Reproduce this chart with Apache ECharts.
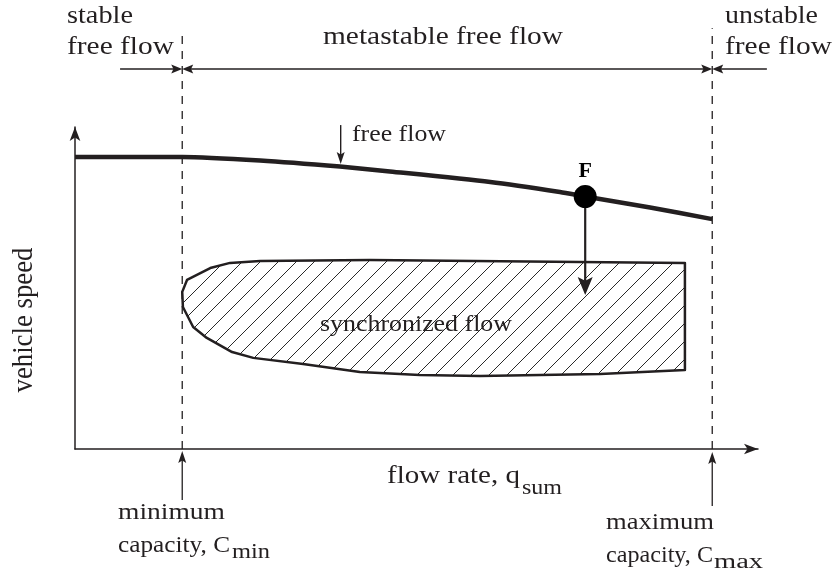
<!DOCTYPE html>
<html><head><meta charset="utf-8">
<script src="https://cdn.jsdelivr.net/npm/echarts@6/dist/echarts.min.js"></script>
<style>html,body{margin:0;padding:0;background:#fff}#c{width:833px;height:573px}</style>
</head><body><div id="c"></div>
<script>
// ---- data (schematic units: flow rate 0..100, vehicle speed 0..100) ----
const flowRate      = [0, 15.7, 27.1, 38.8, 46.1, 60.8, 71.0, 74.7, 84.2, 93.3];
const freeFlowSpeed = [90.7, 90.7, 89.6, 87.7, 86.2, 82.9, 79.8, 78.4, 75.0, 71.4];
const capacityFlow  = [15.7, 93.3];          // C_min, C_max
const capacityLineTop = [128.6, 130.7];      // top of dashed capacity lines
const pointF = [74.7, 78.4];
const pointFArrowTip = 47.8;
const syncFlowRate = [15.7, 16.4, 19.8, 22.7, 27.1, 43.2, 89.3, 89.3, 76.9, 59.3, 50.5, 41.7, 33.4, 26.1, 23.0, 19.3, 17.3, 15.8];
const syncSpeed    = [48.8, 52.5, 56.2, 57.8, 58.4, 58.7, 57.8, 24.5, 23.3, 22.7, 23.0, 23.9, 26.4, 28.3, 30.1, 34.5, 37.9, 44.1];
const freeFlowPointer = [38.9, 100.6, 88.5]; // flow, speed from, speed to
const regimeArrowSpeed = 118.0;
const regimeArrowStart = [6.6, 101.3];
const capacityArrowFrom = [-15.8, -17.7];
const capacityArrowTo   = [-0.6, -0.9];

const INK = '#231f20';
const FONT = '"Liberation Serif", "Times New Roman", serif';

// hatch pattern
const T = 18;
const hatch = document.createElement('canvas');
hatch.width = T; hatch.height = T;
(function () {
  const g = hatch.getContext('2d');
  g.strokeStyle = '#2a2a2a'; g.lineWidth = 1;
  g.beginPath();
  g.moveTo(0, T); g.lineTo(T, 0);
  g.moveTo(-T / 2, T / 2); g.lineTo(T / 2, -T / 2);
  g.moveTo(T / 2, T * 1.5); g.lineTo(T * 1.5, T / 2);
  g.stroke();
})();

function arrowSeries(name, segments, o) {
  return {
    type: 'custom', name: name, coordinateSystem: 'cartesian2d', clip: false, silent: true, z: o.z || 5,
    data: segments,
    renderItem: function (params, api) {
      const a = api.coord([api.value(0), api.value(1)]);
      const b = api.coord([api.value(2), api.value(3)]);
      const dx = b[0] - a[0], dy = b[1] - a[1];
      const L = Math.hypot(dx, dy) || 1;
      const ux = dx / L, uy = dy / L, nx = -uy, ny = ux;
      const hl = o.headLen, hw = o.headWidth / 2;
      function head(tip, ex, ey) {
        const bx = tip[0] - ex * hl, by = tip[1] - ey * hl;
        return { type: 'polygon', shape: { points: [[tip[0], tip[1]], [bx + nx * hw, by + ny * hw], [tip[0] - ex * hl * 0.8, tip[1] - ey * hl * 0.8], [bx - nx * hw, by - ny * hw]] }, style: { fill: o.color || INK } };
      }
      const s = o.both ? [a[0] + ux * hl * 0.7, a[1] + uy * hl * 0.7] : a;
      const e = [b[0] - ux * hl * 0.7, b[1] - uy * hl * 0.7];
      const ch = [{ type: 'line', shape: { x1: s[0], y1: s[1], x2: e[0], y2: e[1] }, style: { stroke: o.color || INK, lineWidth: o.lineWidth } }];
      ch.push(head(b, ux, uy));
      if (o.both) ch.push(head(a, -ux, -uy));
      return { type: 'group', children: ch };
    }
  };
}

const mctx = document.createElement('canvas').getContext('2d');
function txt(text, left, baseline, size, width, extra) {
  const font = (extra && extra.bold ? 'bold ' : '') + size + 'px ' + FONT;
  mctx.font = font;
  const w = mctx.measureText(text).width;
  return {
    type: 'text', x: left, y: baseline - 0.305 * size,
    scaleX: width ? width / w : 1,
    silent: true, z: 20,
    style: { text: text, font: font, fill: INK, align: 'left', verticalAlign: 'middle', textAlign: 'left', textVerticalAlign: 'middle' }
  };
}

const vText = (function () {
  const size = 26, font = size + 'px ' + FONT;
  mctx.font = font;
  const w = mctx.measureText('vehicle speed').width;
  return { type: 'text', x: 24, y: 320, rotation: Math.PI / 2, scaleX: 145 / w, scaleY: 1.12, silent: true, z: 20,
    style: { text: 'vehicle speed', font: font, fill: INK, align: 'center', verticalAlign: 'middle', textAlign: 'center', textVerticalAlign: 'middle' } };
})();

const chart = echarts.init(document.getElementById('c'), null, { renderer: 'canvas' });
const axisCommon = {
  type: 'value', min: 0, max: 100,
  axisLabel: { show: false }, axisTick: { show: false }, splitLine: { show: false },
  axisLine: { show: true, symbol: ['none', 'arrow'], symbolSize: [8, 14], lineStyle: { color: INK, width: 1.5 } }
};

chart.setOption({
  animation: false,
  backgroundColor: '#fff',
  grid: { left: 75, right: 75, top: 127, bottom: 124 },
  xAxis: axisCommon,
  yAxis: axisCommon,
  series: [
    {
      type: 'custom', name: 'synchronized flow', coordinateSystem: 'cartesian2d', clip: false, silent: true, z: 2,
      data: [[0, 0]],
      renderItem: function (params, api) {
        const pts = syncFlowRate.map(function (x, i) { return api.coord([x, syncSpeed[i]]); });
        return { type: 'polygon', shape: { points: pts }, style: { fill: { image: hatch, repeat: 'repeat' }, stroke: INK, lineWidth: 2.5, lineJoin: 'round' } };
      }
    },
    {
      type: 'line', name: 'Cmin', clip: false, silent: true, showSymbol: false, symbol: 'none', z: 3,
      data: [[capacityFlow[0], 0], [capacityFlow[0], capacityLineTop[0]]],
      lineStyle: { color: INK, width: 1.3, type: [8, 7] }
    },
    {
      type: 'line', name: 'Cmax', clip: false, silent: true, showSymbol: false, symbol: 'none', z: 3,
      data: [[capacityFlow[1], 0], [capacityFlow[1], capacityLineTop[1]]],
      lineStyle: { color: INK, width: 1.3, type: [8, 7] }
    },
    {
      type: 'line', name: 'free flow', clip: false, silent: true, showSymbol: false, symbol: 'none', z: 6,
      smooth: 0.25,
      data: flowRate.map(function (x, i) { return [x, freeFlowSpeed[i]]; }),
      lineStyle: { color: INK, width: 4.5, cap: 'butt', join: 'round' }
    },
    arrowSeries('regime single', [
      [regimeArrowStart[0], regimeArrowSpeed, capacityFlow[0], regimeArrowSpeed],
      [regimeArrowStart[1], regimeArrowSpeed, capacityFlow[1], regimeArrowSpeed]
    ], { headLen: 11, headWidth: 9, lineWidth: 1.6 }),
    arrowSeries('regime double', [
      [capacityFlow[0], regimeArrowSpeed, capacityFlow[1], regimeArrowSpeed]
    ], { headLen: 11, headWidth: 9, lineWidth: 1.6, both: true }),
    arrowSeries('capacity arrows', [
      [capacityFlow[0], capacityArrowFrom[0], capacityFlow[0], capacityArrowTo[0]],
      [capacityFlow[1], capacityArrowFrom[1], capacityFlow[1], capacityArrowTo[1]]
    ], { headLen: 12, headWidth: 8, lineWidth: 1.3 }),
    arrowSeries('free flow pointer', [
      [freeFlowPointer[0], freeFlowPointer[1], freeFlowPointer[0], freeFlowPointer[2]]
    ], { headLen: 12, headWidth: 8, lineWidth: 1.4 }),
    arrowSeries('F to S', [
      [pointF[0], pointF[1], pointF[0], pointFArrowTip]
    ], { headLen: 18, headWidth: 15, lineWidth: 2.2, z: 7 }),
    {
      type: 'scatter', name: 'F', silent: true, z: 8,
      data: [pointF], symbol: 'circle', symbolSize: 23,
      itemStyle: { color: '#000', opacity: 1 },
      label: { show: true, formatter: 'F', position: 'top', distance: 3, fontFamily: FONT, fontWeight: 'bold', fontSize: 22, color: '#000' }
    }
  ],
  graphic: [
    txt('stable', 67, 24, 26, 66),
    txt('free flow', 67, 55, 26, 107),
    txt('metastable free flow', 323, 45, 26, 240),
    txt('unstable', 725, 24, 26, 93),
    txt('free flow', 725, 55, 26, 107),
    txt('free flow', 352, 142, 23, 94),
    txt('synchronized flow', 320, 332, 23, 192),
    txt('flow rate, q', 387, 484, 26, 133),
    txt('sum', 522, 495, 21, 40),
    txt('minimum', 118, 520, 24, 107),
    txt('capacity, C', 118, 553, 24, 112),
    txt('min', 232, 559, 20, 38),
    txt('maximum', 606, 530, 24, 108),
    txt('capacity, C', 606, 563, 24, 107),
    txt('max', 714, 569, 20, 49),
    vText
  ]
});
</script></body></html>
